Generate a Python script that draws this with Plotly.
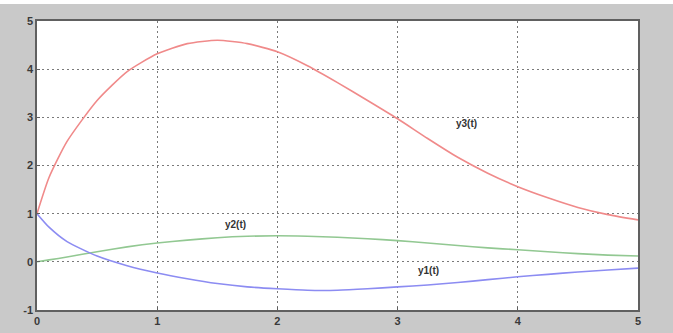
import plotly.graph_objects as go

# Sample times and the three response curves
t = [0, 0.1, 0.25, 0.5, 0.75, 1.0, 1.25, 1.5, 1.75, 2.0, 2.25, 2.5, 2.75,
     3.0, 3.25, 3.5, 3.75, 4.0, 4.25, 4.5, 4.75, 5.0]
y1 = [1.0, 0.72, 0.42, 0.12, -0.08, -0.23, -0.35, -0.45, -0.52, -0.56, -0.59,
      -0.59, -0.56, -0.52, -0.48, -0.43, -0.37, -0.31, -0.26, -0.21, -0.17, -0.13]
y2 = [0.0, 0.04, 0.10, 0.21, 0.31, 0.39, 0.45, 0.50, 0.53, 0.54, 0.53, 0.51,
      0.48, 0.44, 0.39, 0.34, 0.29, 0.25, 0.21, 0.17, 0.14, 0.12]
y3 = [1.0, 1.75, 2.50, 3.35, 3.95, 4.32, 4.53, 4.60, 4.53, 4.36, 4.07, 3.72,
      3.35, 2.97, 2.56, 2.17, 1.84, 1.56, 1.33, 1.13, 0.98, 0.87]

x_ticks = [0, 1, 2, 3, 4, 5]
y_ticks = [-1, 0, 1, 2, 3, 4, 5]

# Curve labels: (text, t, y)
labels = [("y3(t)", 3.57, 2.88), ("y2(t)", 1.65, 0.77), ("y1(t)", 3.26, -0.19)]

W, H = 673, 333
ML, MR, MT, MB = 37, 35, 21, 23
PW, PH = W - ML - MR, H - MT - MB

fig = go.Figure()
for ys, col in [(y3, "#f08a8a"), (y2, "#92c892"), (y1, "#8c8cf2")]:
    fig.add_trace(go.Scatter(x=t, y=ys, mode="lines",
                             line=dict(color=col, width=1.6, shape="spline", smoothing=0.6),
                             showlegend=False, hoverinfo="skip"))

for txt, tx, ty in labels:
    fig.add_annotation(x=tx, y=ty, text=txt, showarrow=False,
                       font=dict(family="Liberation Sans", size=10, color="#333333", weight="bold"))

# thin white band along the top edge
fig.add_shape(type="rect", xref="paper", yref="paper",
              x0=-ML / PW, x1=1 + MR / PW, y0=1 + (MT - 4) / PH, y1=1 + MT / PH,
              fillcolor="white", line=dict(width=0), layer="above")

axis_common = dict(showgrid=True, gridcolor="#7a7a7a", griddash="2px,3px", gridwidth=1,
                   showline=True, linecolor="#606060", linewidth=1.5, mirror=True,
                   zeroline=False, ticks="inside", ticklen=3, tickcolor="#606060",
                   automargin=False,
                   tickfont=dict(family="Liberation Sans", size=11, color="#3a3a3a", weight="bold"))

fig.update_xaxes(range=[0, 5], tickvals=x_ticks, ticktext=[str(v) for v in x_ticks], **axis_common)
fig.update_yaxes(range=[-1, 5], tickvals=y_ticks, ticktext=[str(v) for v in y_ticks], **axis_common)

fig.update_layout(width=W, height=H, margin=dict(l=ML, r=MR, t=MT, b=MB, autoexpand=False),
                  paper_bgcolor="#c9c9c9", plot_bgcolor="white")

fig.write_html("out.html")
